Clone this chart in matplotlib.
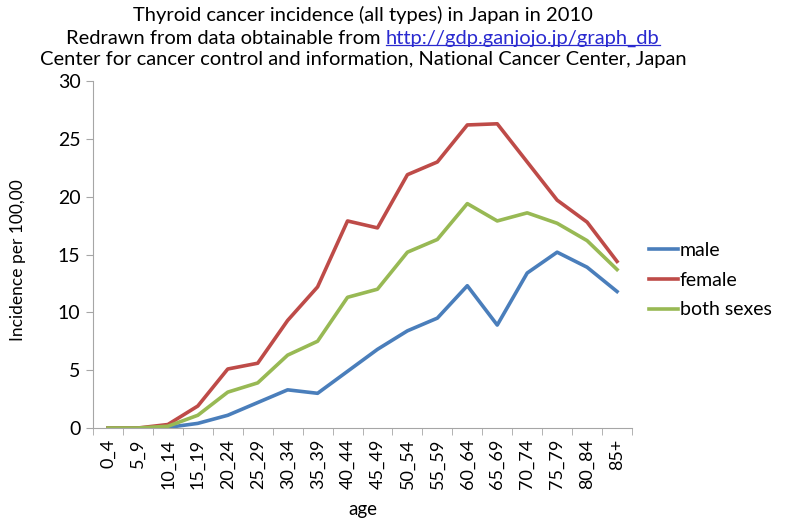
import matplotlib
matplotlib.use("Agg")
import matplotlib.pyplot as plt
from matplotlib.lines import Line2D

# age groups and incidence per 100,000
ages = ["0_4", "5_9", "10_14", "15_19", "20_24", "25_29", "30_34", "35_39",
        "40_44", "45_49", "50_54", "55_59", "60_64", "65_69", "70_74",
        "75_79", "80_84", "85+"]
male = [0.0, 0.0, 0.05, 0.4, 1.1, 2.2, 3.3, 3.0, 4.9, 6.8, 8.4, 9.5,
        12.3, 8.9, 13.4, 15.2, 13.9, 11.8]
female = [0.0, 0.0, 0.3, 1.9, 5.1, 5.6, 9.3, 12.2, 17.9, 17.3, 21.9, 23.0,
          26.2, 26.3, 23.0, 19.7, 17.8, 14.4]
both = [0.0, 0.0, 0.15, 1.1, 3.1, 3.9, 6.3, 7.5, 11.3, 12.0, 15.2, 16.3,
        19.4, 17.9, 18.6, 17.7, 16.2, 13.7]
yticks = [0, 5, 10, 15, 20, 25, 30]

plt.rcParams["font.family"] = ["Lato", "DejaVu Sans"]

W, H = 788, 524
fig = plt.figure(figsize=(W / 100, H / 100), dpi=100)
ax = fig.add_axes([93 / W, 1 - 428 / H, (632 - 93) / W, (428 - 81) / H])

x = list(range(len(ages)))
ax.plot(x, male, color="#4A7EBB", lw=2.6, label="male")
ax.plot(x, female, color="#BE4B48", lw=2.6, label="female")
ax.plot(x, both, color="#98B954", lw=2.6, label="both sexes")

ax.set_xlim(-0.5, len(ages) - 0.5)
ax.set_ylim(0, 30)
ax.set_yticks(yticks)
ax.set_xticks(x)
ax.set_xticklabels(ages, rotation=90, fontsize=13)
ax.set_xticks([i - 0.5 for i in range(len(ages) + 1)], minor=True)
ax.tick_params(axis="x", which="major", length=0, pad=8)
ax.tick_params(axis="x", which="minor", length=5, color="#A6A6A6")
ax.tick_params(axis="y", length=5, color="#A6A6A6", labelsize=14, pad=4)
for s in ["top", "right"]:
    ax.spines[s].set_visible(False)
for s in ["left", "bottom"]:
    ax.spines[s].set_color("#A6A6A6")

ax.set_ylabel("Incidence per 100,00", fontsize=12.5, va="center")
ax.yaxis.set_label_coords((18 - 93) / (632 - 93), (428 - 260) / (428 - 81))
ax.set_xlabel("age", fontsize=13.5, va="center")
ax.xaxis.set_label_coords(0.5, (428 - 510) / (428 - 81))

fig.legend(loc="center left", bbox_to_anchor=(641 / W, 1 - 280 / H),
           frameon=False, fontsize=14, handlelength=1.5, handletextpad=0.1,
           labelspacing=0.66, borderaxespad=0)

# title lines
cx = 363 / W
fs = 14.5
fig.text(cx, 1 - 15 / H, "Thyroid cancer incidence (all types) in Japan in 2010",
         ha="center", va="center", fontsize=fs)
fig.text(cx, 1 - 60 / H,
         "Center for cancer control and information, National Cancer Center, Japan",
         ha="center", va="center", fontsize=fs)

prefix = "Redrawn from data obtainable from "
url = "http://gdp.ganjojo.jp/graph_db"
t1 = fig.text(0, 1 - 38 / H, prefix, ha="left", va="center", fontsize=fs)
t2 = fig.text(0, 1 - 38 / H, url, ha="left", va="center", fontsize=fs,
              color="#2A2AD0")
fig.canvas.draw()
r = fig.canvas.get_renderer()
w1 = t1.get_window_extent(r).width
w2 = t2.get_window_extent(r).width
start = 363 - (w1 + w2) / 2
t1.set_x(start / W)
t2.set_x((start + w1) / W)
fig.canvas.draw()
bb = t2.get_window_extent(r)
uy = (bb.y0 + 2) / H
fig.add_artist(Line2D([bb.x0 / W, bb.x1 / W], [uy, uy], color="#2A2AD0",
                      lw=0.9, transform=fig.transFigure))

fig.savefig("out.png", dpi=100)
